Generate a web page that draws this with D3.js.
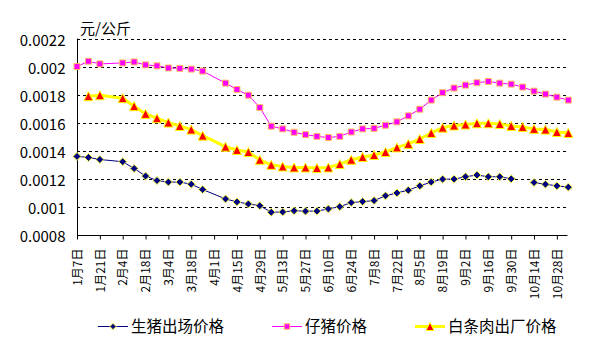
<!DOCTYPE html>
<html><head><meta charset="utf-8">
<script src="https://cdn.jsdelivr.net/npm/d3@7"></script>
<style>
html,body{margin:0;padding:0;background:#fff;}
svg{display:block;}
text{font-family:"Noto Sans CJK SC","Noto Sans",sans-serif;fill:#000;}
</style></head>
<body>
<script>
// ---- data ----
const dates = ["1月7日","1月14日","1月21日","1月28日","2月4日","2月11日","2月18日","2月25日","3月4日","3月11日",
"3月18日","3月25日","4月1日","4月8日","4月15日","4月22日","4月29日","5月6日","5月13日","5月20日",
"5月27日","6月3日","6月10日","6月17日","6月24日","7月1日","7月8日","7月15日","7月22日","7月29日",
"8月5日","8月12日","8月19日","8月26日","9月2日","9月9日","9月16日","9月23日","9月30日","10月7日",
"10月14日","10月21日","10月28日","11月4日"];
// null = missing value
const pigPrice = [0.00136,0.001353,0.001338,null,0.001322,0.001274,0.00122,0.001188,0.001177,0.001177,
0.001162,0.001124,null,0.001057,0.001036,0.001021,0.001009,0.000962,0.000964,0.000973,
0.00097,0.00097,0.000986,0.001002,0.001031,0.001038,0.001045,0.001079,0.0011,0.001119,
0.00115,0.001177,0.001198,0.001198,0.001215,0.001227,0.001215,0.001215,0.0012,null,
0.001174,0.001162,0.00115,0.001141];
const pigletPrice = [0.002,0.002038,0.002019,null,0.002026,0.002033,0.002012,0.002005,0.00199,0.001987,
0.001982,0.001968,null,0.001882,0.001837,0.001796,0.001708,0.001575,0.001556,0.001532,
0.001515,0.001503,0.001494,0.001503,0.001534,0.001556,0.00156,0.001582,0.001606,0.001649,
0.001696,0.001761,0.001814,0.001847,0.001868,0.001885,0.001894,0.001882,0.001875,0.001854,
0.001825,0.001804,0.001782,0.001761];
const meatPrice = [null,0.001789,0.001796,null,0.001775,0.001718,0.001663,0.001632,0.001601,0.001577,
0.001551,0.001508,null,0.001429,0.001406,0.001391,0.001336,0.0013,0.001288,0.001281,
0.001281,0.001277,0.001281,0.001305,0.001336,0.001356,0.00137,0.001391,0.001424,0.001449,
0.001484,0.001527,0.001565,0.00158,0.001587,0.001596,0.001596,0.001591,0.001577,0.00157,
0.001556,0.001551,0.001534,0.001527];
// blank cells where the line is broken (other missing values are bridged)
const pigBreaks = [39];
const seriesNames = ["生猪出场价格","仔猪价格","白条肉出厂价格"];
const yTicks = [0.0008,0.001,0.0012,0.0014,0.0016,0.0018,0.002,0.0022];
const yTickLabels = ["0.0008","0.001","0.0012","0.0014","0.0016","0.0018","0.002","0.0022"];
const unitLabel = "元/公斤";

// ---- chart ----
const W = 590, H = 350;
const svg = d3.select("body").append("svg").attr("width", W).attr("height", H);
const L = 77, R = 567.5, T = 38.5, B = 235;
const x = d3.scalePoint().domain(dates).range([L, 568.3]);
const y = d3.scaleLinear().domain([0.0008, 0.0022]).range([B, T]);

// gridlines
svg.append("g").selectAll("line").data(yTicks.slice(1)).join("line")
  .attr("x1", L).attr("x2", R).attr("y1", d => Math.round(y(d)) + 0.5).attr("y2", d => Math.round(y(d)) + 0.5)
  .attr("stroke", "#000").attr("stroke-width", 1).attr("stroke-dasharray", "3,3");

// y axis
const yAxis = d3.axisLeft(y).tickValues(yTicks).tickSize(0).tickPadding(12)
  .tickFormat((d, i) => yTickLabels[i]);
const gy = svg.append("g").attr("transform", `translate(${L + 0.5},0)`).call(yAxis);
gy.select(".domain").attr("stroke", "#000").attr("d", `M0,${T}V${B}`);
gy.selectAll(".tick text").attr("font-size", 15).attr("dy", "0.45em")
  .style("font-family", '"Noto Sans CJK SC",sans-serif').attr("fill", "#000");

// x axis
const xAxis = d3.axisBottom(x).tickValues(dates.filter((d, i) => i % 2 === 0))
  .tickSizeInner(4).tickSizeOuter(0);
const gx = svg.append("g").attr("transform", `translate(0,${B + 0.5})`).call(xAxis);
gx.select(".domain").attr("stroke", "#000").attr("d", `M${L},0H${R}`);
gx.selectAll(".tick line").attr("stroke", "#000");
gx.selectAll(".tick text").attr("font-size", 12)
  .style("font-family", '"Noto Sans CJK SC",sans-serif').attr("fill", "#000")
  .attr("transform", "rotate(-90)").attr("text-anchor", "end")
  .attr("x", -13).attr("y", 0).attr("dy", "0.35em");

// unit label
svg.append("text").attr("x", 80).attr("y", 29).attr("dy", "0.35em")
  .attr("font-size", 15).text(unitLabel);

// marker shapes
const diamond = { draw(ctx, s) { const r = Math.sqrt(s) / 2; ctx.moveTo(0, -r); ctx.lineTo(r, 0); ctx.lineTo(0, r); ctx.lineTo(-r, 0); ctx.closePath(); } };
const square = { draw(ctx, s) { const r = Math.sqrt(s) / 2; ctx.rect(-r, -r, 2 * r, 2 * r); } };
const tri = { draw(ctx, s) { const r = Math.sqrt(s) / 2; ctx.moveTo(0, -r); ctx.lineTo(r, r); ctx.lineTo(-r, r); ctx.closePath(); } };

const series = [
  { vals: pigPrice, breaks: pigBreaks, line: "#000080", lw: 1, shape: diamond, size: 64, fill: "#000080", stroke: "#ffff40" },
  { vals: pigletPrice, breaks: [], line: "#ff00ff", lw: 1, shape: square, size: 36, fill: "#ff00ff", stroke: "#ffc060" },
  { vals: meatPrice, breaks: [], line: "#ffff00", lw: 3, shape: tri, size: 81, fill: "#ff0000", stroke: "#ffff00" }
];

const lineGen = d3.line().defined(d => d.v !== null).x(d => x(dates[d.i])).y(d => y(d.v));
series.forEach(s => {
  const pts = s.vals.map((v, i) => ({ i, v })).filter(d => d.v !== null || s.breaks.includes(d.i));
  svg.append("path").datum(pts).attr("d", lineGen).attr("fill", "none")
    .attr("stroke", s.line).attr("stroke-width", s.lw).attr("stroke-linejoin", "round");
});
series.forEach(s => {
  const pts = s.vals.map((v, i) => ({ i, v })).filter(d => d.v !== null);
  svg.append("g").selectAll("path").data(pts).join("path")
    .attr("transform", d => `translate(${x(dates[d.i])},${y(d.v)})`)
    .attr("d", d3.symbol(s.shape, s.size)())
    .attr("fill", s.fill).attr("stroke", s.stroke).attr("stroke-width", 1);
});

// legend
const legX = [98, 272, 415];
const legY = 326.5;
const legSize = [40, 30, 64];
series.forEach((s, k) => {
  const g = svg.append("g").attr("transform", `translate(${legX[k]},${legY})`);
  g.append("line").attr("x1", 0).attr("x2", 30).attr("y1", 0).attr("y2", 0)
    .attr("stroke", s.line).attr("stroke-width", s.lw);
  g.append("path").attr("transform", "translate(15,0)").attr("d", d3.symbol(s.shape, legSize[k])())
    .attr("fill", s.fill).attr("stroke", s.stroke).attr("stroke-width", 1);
  g.append("text").attr("x", 33).attr("y", 0).attr("dy", "0.36em").attr("font-size", 15.5).text(seriesNames[k]);
});
</script>
</body></html>
